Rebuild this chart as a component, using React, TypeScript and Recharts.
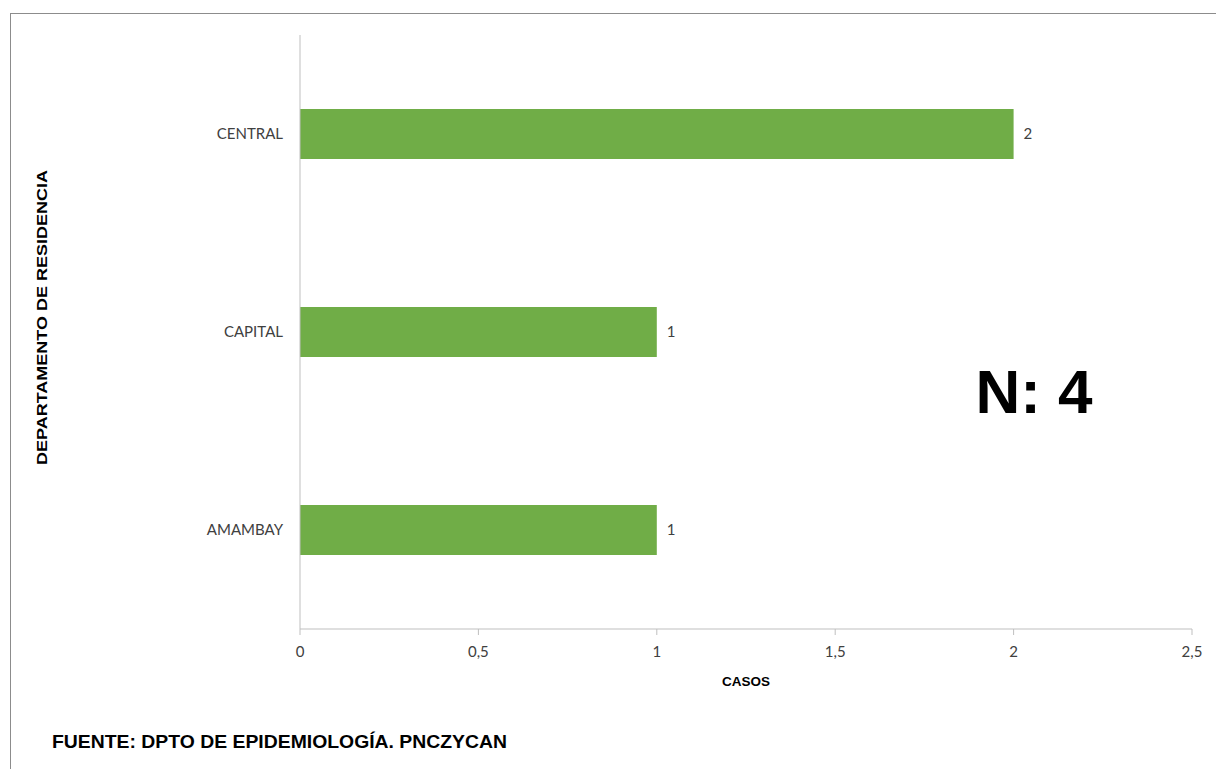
import React from 'react';
import { BarChart, Bar, XAxis, YAxis, LabelList } from 'recharts';

const departamentos = ['CENTRAL', 'CAPITAL', 'AMAMBAY'];
const casos = [2, 1, 1];
const xTicks = [0, 0.5, 1, 1.5, 2, 2.5];
const totalLabel = 'N: 4';
const xTitle = 'CASOS';
const yTitle = 'DEPARTAMENTO DE RESIDENCIA';
const fuente = 'FUENTE: DPTO DE EPIDEMIOLOGÍA. PNCZYCAN';

const data = departamentos.map((d, i) => ({ name: d, value: casos[i] }));

const fmt = (v: number) => String(v).replace('.', ',');

export default function App() {
  return (
    <div style={{ position: 'absolute', left: 0, top: 0, width: 1216, height: 769, overflow: 'hidden', background: '#fff' }}>
      <div style={{ position: 'absolute', left: 10, top: 13, width: 1400, height: 900, borderTop: '1px solid #8c8c8c', borderLeft: '1px solid #8c8c8c' }} />
      <div style={{ position: 'absolute', left: 0, top: 0 }}>
        <BarChart
          width={1216}
          height={769}
          data={data}
          layout="vertical"
          margin={{ top: 35, right: 24, bottom: 110, left: 10 }}
          barCategoryGap={0}
        >
          <XAxis
            type="number"
            domain={[0, 2.5]}
            ticks={xTicks}
            tickFormatter={fmt}
            height={30}
            stroke="#bfbfbf"
            tickLine={{ stroke: '#bfbfbf' }}
            tickSize={6}
            tickMargin={11}
            tick={{ fill: '#404040', fontSize: 15, fontFamily: 'Lato' }}
            interval={0}
          />
          <YAxis
            type="category"
            dataKey="name"
            width={290}
            stroke="#bfbfbf"
            tickLine={false}
            tickMargin={11}
            tick={{ fill: '#404040', fontSize: 15, fontFamily: 'Lato' }}
          />
          <Bar dataKey="value" fill="#70ad47" barSize={50} isAnimationActive={false}>
            <LabelList dataKey="value" position="right" offset={10} style={{ fill: '#404040', fontSize: 15, fontFamily: 'Lato' }} />
          </Bar>
        </BarChart>
      </div>
      <svg width={1216} height={769} style={{ position: 'absolute', left: 0, top: 0, pointerEvents: 'none' }}>
        <text x={1034} y={413} textAnchor="middle" fontFamily="Liberation Sans" fontWeight="bold" fontSize={62} fill="#000">{totalLabel}</text>
        <text x={746} y={686} textAnchor="middle" fontFamily="Liberation Sans" fontWeight="bold" fontSize={13} textLength={48} lengthAdjust="spacingAndGlyphs" fill="#000">{xTitle}</text>
        <text
          x={0}
          y={0}
          transform="translate(47,317.5) rotate(-90)"
          textAnchor="middle"
          fontFamily="Liberation Sans"
          fontWeight="bold"
          fontSize={15}
          textLength={295}
          lengthAdjust="spacingAndGlyphs"
          fill="#000"
        >{yTitle}</text>
        <text x={52} y={748} fontFamily="Liberation Sans" fontWeight="bold" fontSize={18} textLength={455} lengthAdjust="spacingAndGlyphs" fill="#000">{fuente}</text>
      </svg>
    </div>
  );
}
